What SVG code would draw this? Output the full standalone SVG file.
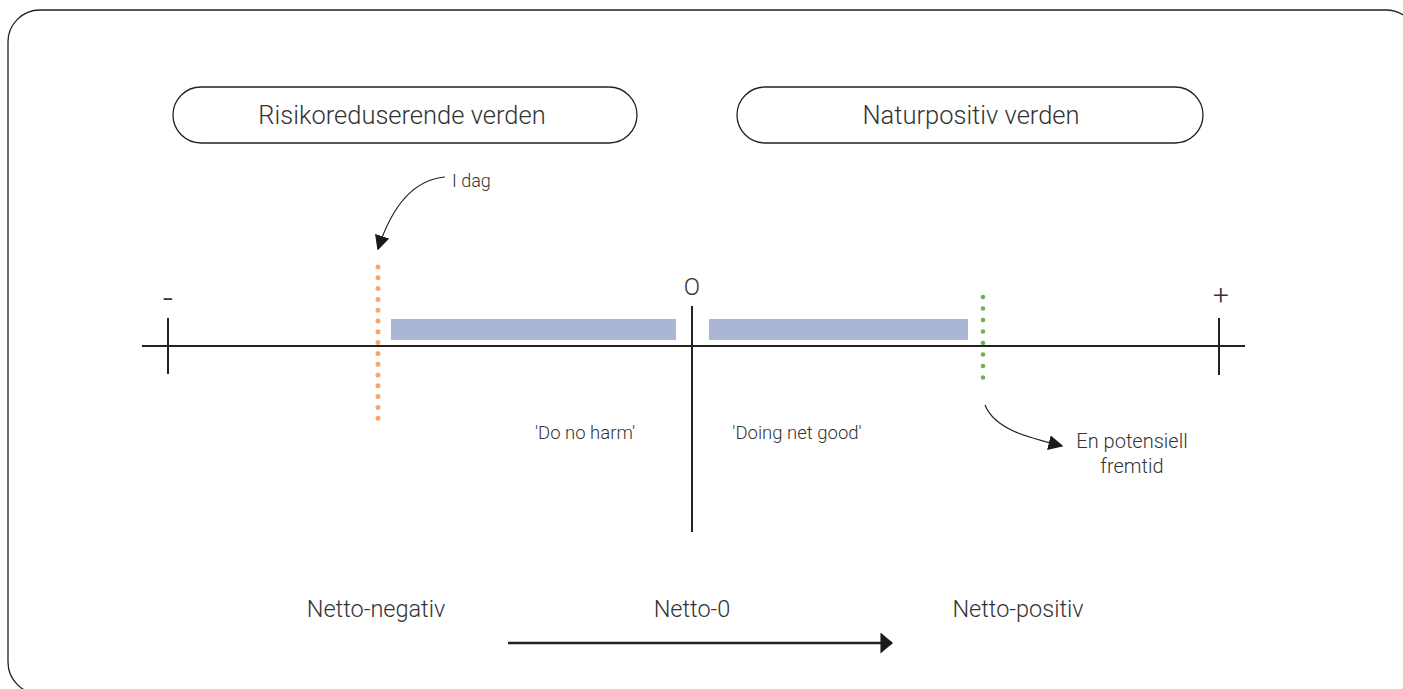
<svg xmlns="http://www.w3.org/2000/svg" width="1403" height="689" viewBox="0 0 1403 689">
  <defs>
    <marker id="arrow" viewBox="0 0 10 10" refX="9" refY="5" markerWidth="15" markerHeight="15" markerUnits="userSpaceOnUse" orient="auto">
      <path d="M0,0 L10,5 L0,10 z" fill="#1a1a1a"/>
    </marker>
    <marker id="arrowBig" viewBox="0 0 12 20" refX="11" refY="10" markerWidth="13" markerHeight="21" markerUnits="userSpaceOnUse" orient="auto">
      <path d="M0,0 L12,10 L0,20 z" fill="#1a1a1a"/>
    </marker>
  </defs>
  <style>
    .lbl { font-family: Roboto, "Liberation Sans", sans-serif; font-weight: 300; fill: #333; }
    .pill { fill: none; stroke: #222; stroke-width: 1.3; }
    .axis { stroke: #222; stroke-width: 2; fill: none; }
    .bar { fill: #abb5d4; }
    .curve { stroke: #222; stroke-width: 1.2; fill: none; }
  </style>

  <rect width="1403" height="689" fill="#fff"/>
  <!-- frame -->
  <rect x="8" y="10" width="1410" height="684" rx="32" fill="none" stroke="#222" stroke-width="1.3"/>

  <g id="pill-risk">
    <rect class="pill" x="173" y="87" width="464" height="56" rx="28"/>
    <text class="lbl" x="402" y="124" font-size="25.5" text-anchor="middle">Risikoreduserende verden</text>
  </g>
  <g id="pill-nature">
    <rect class="pill" x="737" y="87" width="466" height="56" rx="28"/>
    <text class="lbl" x="971" y="124" font-size="25.5" text-anchor="middle">Naturpositiv verden</text>
  </g>

  <!-- scale axis -->
  <g id="axis">
    <line class="axis" x1="142" y1="346" x2="1245" y2="346"/>
    <line class="axis" x1="168" y1="318" x2="168" y2="374"/>
    <line class="axis" x1="1219" y1="318" x2="1219" y2="375"/>
    <line class="axis" x1="692" y1="306" x2="692" y2="532"/>
    <text class="lbl" x="168" y="311" font-size="36" text-anchor="middle">-</text>
    <text class="lbl" x="1221" y="305" font-size="28" text-anchor="middle">+</text>
    <text class="lbl" x="692" y="295" font-size="24" text-anchor="middle">O</text>
  </g>

  <g id="bars">
    <rect class="bar" x="391" y="319" width="285" height="21"/>
    <rect class="bar" x="709" y="319" width="259" height="21"/>
  </g>

  <!-- today marker -->
  <g id="today">
    <line x1="378" y1="267" x2="378" y2="425" stroke="#f9a66e" stroke-width="5" stroke-linecap="round" stroke-dasharray="0 10.8"/>
    <text class="lbl" x="452" y="187" font-size="18">I dag</text>
  </g>

  <!-- future marker -->
  <g id="future">
    <line x1="983" y1="297" x2="983" y2="389" stroke="#6ab150" stroke-width="4.5" stroke-linecap="round" stroke-dasharray="0 11.5"/>
    <text class="lbl" x="1132" y="448" font-size="20" text-anchor="middle">En potensiell</text>
    <text class="lbl" x="1132" y="473" font-size="20" text-anchor="middle">fremtid</text>
  </g>

  <g id="zone-labels">
    <text class="lbl" x="585" y="439" font-size="18.5" text-anchor="middle">'Do no harm'</text>
    <text class="lbl" x="797" y="439" font-size="18.5" text-anchor="middle">'Doing net good'</text>
  </g>

  <g id="bottom-labels">
    <text class="lbl" x="376" y="617" font-size="23.5" text-anchor="middle">Netto-negativ</text>
    <text class="lbl" x="692" y="617" font-size="23.5" text-anchor="middle">Netto-0</text>
    <text class="lbl" x="1018" y="617" font-size="23.5" text-anchor="middle">Netto-positiv</text>
  </g>

  <g id="connectors">
    <path class="curve" d="M445,177 C410,180 390,212 378,249" marker-end="url(#arrow)"/>
    <path class="curve" d="M985,405 C995,430 1030,438 1062,446" marker-end="url(#arrow)"/>
    <line x1="508" y1="643" x2="892" y2="643" stroke="#222" stroke-width="2.5" marker-end="url(#arrowBig)"/>
  </g>
</svg>
